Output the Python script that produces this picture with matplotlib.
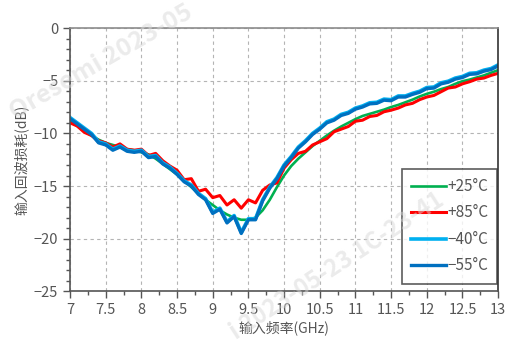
import matplotlib
import numpy as np

matplotlib.use("Agg")

from matplotlib import pyplot as plt
from matplotlib.ticker import MultipleLocator

plt.rcParams["font.family"] = ["Noto Sans CJK SC", "DejaVu Sans"]
plt.rcParams["axes.unicode_minus"] = True

# frequency grid (GHz), 0.1 GHz steps from 7 to 13
freq = np.round(np.arange(7.0, 13.001, 0.1), 2)

rl_p25 = [
    -8.8, -9.3, -9.8, -10.2, -10.6, -10.9, -11.1, -11.3, -11.5, -11.6,
    -11.8, -12.0, -12.4, -12.9, -13.4, -13.9, -14.5, -15.1, -15.7, -16.3,
    -16.8, -17.3, -17.7, -18.0, -18.2, -18.2, -18.0, -17.3, -16.3, -15.1,
    -14.0, -13.1, -12.4, -11.8, -11.2, -10.7, -10.2, -9.75, -9.35, -9.0,
    -8.65, -8.35, -8.15, -7.95, -7.75, -7.5, -7.3, -7.05, -6.8, -6.5,
    -6.25, -6.05, -5.8, -5.6, -5.3, -5.05, -4.9, -4.7, -4.5, -4.25,
    -4.0,
]
rl_p85 = [
    -9.0, -9.3, -9.9, -10.2, -10.7, -10.9, -11.3, -11.0, -11.5, -11.6,
    -11.5, -12.1, -11.9, -12.6, -13.1, -13.5, -14.4, -14.3, -15.5, -15.3,
    -16.1, -15.9, -16.8, -16.3, -17.1, -16.3, -16.6, -15.4, -14.9, -14.7,
    -13.3, -12.5, -11.9, -11.7, -11.1, -10.8, -10.5, -9.85, -9.6, -9.35,
    -8.85, -8.75, -8.4, -8.3, -7.95, -7.8, -7.6, -7.3, -7.15, -6.8,
    -6.55, -6.4, -6.05, -5.7, -5.6, -5.3, -5.1, -4.85, -4.75, -4.5,
    -4.3,
]
rl_m40 = [
    -8.5, -9.0, -9.5, -10.0, -10.8, -11.0, -11.5, -11.2, -11.6, -11.7,
    -11.6, -12.2, -12.1, -12.8, -13.2, -13.8, -14.5, -14.9, -15.7, -16.2,
    -17.5, -17.1, -18.4, -17.8, -19.4, -18.1, -18.1, -16.3, -15.1, -14.2,
    -13.0, -12.2, -11.3, -10.7, -10.0, -9.5, -8.9, -8.65, -8.2, -8.0,
    -7.6, -7.4, -7.1, -7.05, -6.75, -6.8, -6.45, -6.45, -6.2, -6.0,
    -5.65, -5.6, -5.2, -5.05, -4.75, -4.6, -4.3, -4.25, -4.0, -3.85,
    -3.5,
]
rl_m55 = [
    -8.6, -9.1, -9.6, -10.1, -10.9, -11.1, -11.6, -11.3, -11.7, -11.8,
    -11.7, -12.3, -12.2, -12.9, -13.3, -13.9, -14.6, -15.0, -15.8, -16.3,
    -17.6, -17.2, -18.5, -17.9, -19.5, -18.2, -18.2, -16.4, -15.2, -14.3,
    -13.1, -12.3, -11.4, -10.8, -10.1, -9.6, -9.0, -8.75, -8.3, -8.1,
    -7.7, -7.5, -7.2, -7.15, -6.85, -6.9, -6.55, -6.55, -6.3, -6.1,
    -5.75, -5.7, -5.3, -5.15, -4.85, -4.7, -4.4, -4.35, -4.1, -3.95,
    -3.6,
]

series = [
    ("+25°C", rl_p25, "#00b050", 1.9),
    ("+85°C", rl_p85, "#ff0000", 2.2),
    ("−40°C", rl_m40, "#00b0f0", 2.6),
    ("−55°C", rl_m55, "#0070c0", 2.4),
]

fig = plt.figure(figsize=(5.13, 3.5), dpi=100)
ax = fig.add_axes([0.1365, 0.1674, 0.8345, 0.7526])

for label, values, color, lw in series:
    ax.plot(freq, values, color=color, linewidth=lw, label=label)

ax.set_xlim(7, 13)
ax.set_ylim(-25, 0)
ax.xaxis.set_major_locator(MultipleLocator(0.5))
ax.xaxis.set_minor_locator(MultipleLocator(0.25))
ax.yaxis.set_major_locator(MultipleLocator(5))
ax.yaxis.set_minor_locator(MultipleLocator(1))
ax.set_xticklabels([f"{v:g}" for v in ax.get_xticks()])

ax.grid(True, which="major", color="#b4b4b4", linestyle=(0, (3, 3)), linewidth=0.8)
ax.tick_params(which="major", direction="out", length=5, width=1, color="#555555",
               labelcolor="#555555", labelsize=10.5)
ax.tick_params(which="minor", direction="out", length=3, width=1, color="#555555")
for side in ["left", "bottom"]:
    ax.spines[side].set_color("#555555")
ax.spines["top"].set_color("#8c8c8c")
ax.spines["right"].set_color("#333333")
for spine in ax.spines.values():
    spine.set_linewidth(1.2)

ax.set_xlabel("输入频率(GHz)", fontsize=10, color="#555555", labelpad=2)
ax.set_ylabel("输入回波损耗(dB)", fontsize=10, color="#555555", labelpad=4)

leg = ax.legend(loc="lower right", bbox_to_anchor=(0.998, 0.03), borderaxespad=0,
                fontsize=11, frameon=True, fancybox=False, handlelength=2.3,
                handletextpad=0.05, labelspacing=0.62, borderpad=0.6)
leg.get_frame().set_edgecolor("#333333")
leg.get_frame().set_linewidth(1.2)
for text in leg.get_texts():
    text.set_color("#555555")

# faint watermarks
fig.text(0.01, 0.66, "Oresemi 2023-05", rotation=30, fontsize=18, fontweight="bold",
         color="#d8d8d8", alpha=0.5, zorder=5)
fig.text(0.44, 0.03, "i 2023-05-23 1C-23-41", rotation=33, fontsize=17, fontweight="bold",
         color="#d8d8d8", alpha=0.5, zorder=5)

fig.savefig("out.png", dpi=100)
plt.close(fig)
